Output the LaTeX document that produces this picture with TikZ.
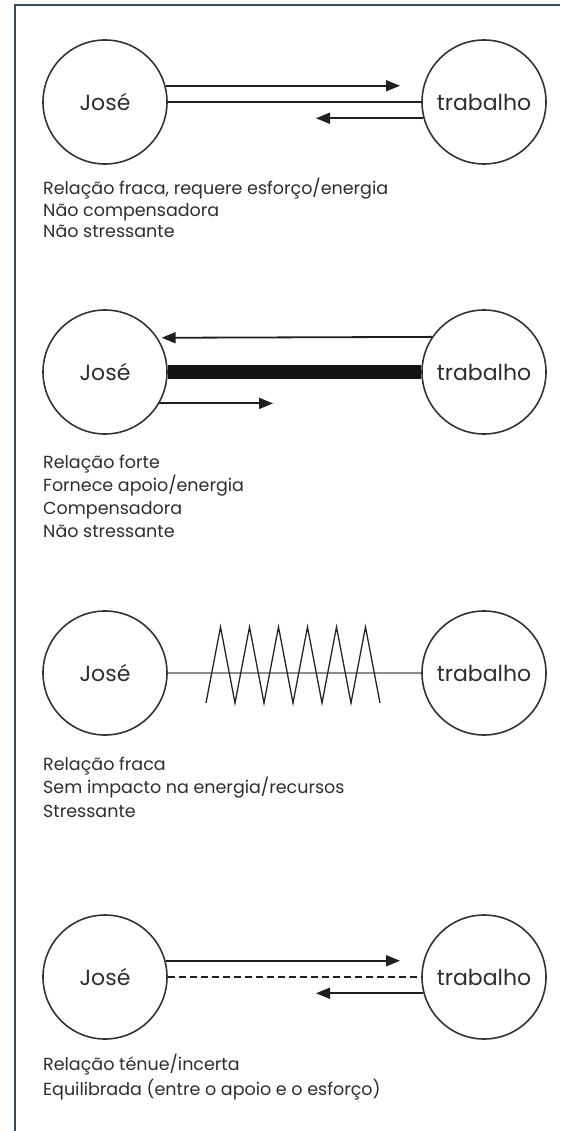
\documentclass[tikz,border=0pt]{standalone}
\usepackage{fontspec}
\newfontfamily\pop{Poppins}
\usetikzlibrary{arrows.meta,calc}
\definecolor{frame}{HTML}{3B4A5C}
\definecolor{txt}{HTML}{2E2E2E}
\definecolor{circ}{HTML}{333333}
\definecolor{midgray}{HTML}{8C8C8C}
\tikzset{
  person/.style={circle, draw=circ, line width=1.6pt, minimum size=124pt, inner sep=0pt,
    font=\pop\fontsize{22}{26}\selectfont, text=txt},
  lab/.style={anchor=base west, inner sep=0pt, font=\pop\fontsize{17.5}{22}\selectfont, text=txt},
  conn/.style={line width=1.8pt, draw=black!88},
  tipped/.style={conn, -{Triangle[length=14pt,width=11pt]}},
  frameline/.style={line width=2.2pt, draw=frame},
}
\begin{document}
\begin{tikzpicture}[x=1pt,y=-1pt]
\useasboundingbox (0,0) rectangle (560,1131);
\fill[white] (0,0) rectangle (560,1131);
% frame
\coordinate (fb) at (15,1131);
\coordinate (fc) at (15,5);
\coordinate (fr) at (560,5);
\draw[frameline] (fb) -- (fc) -- (fr);

% ---------- panel 1 ----------
\node[person] (j1) at (105,102) {José};
\node[person] (t1) at (484,102) {trabalho};
\coordinate (a1) at (400,0);
\coordinate (b1) at (316,0);
\draw[tipped] (j1.15) -- (j1.15 -| a1);
\draw[conn] (j1.east) -- (t1.west);
\draw[tipped] (t1.195) -- (t1.195 -| b1);
\node[lab] (l1a) at (43,195) {Relação fraca, requere esforço/energia};
\node[lab] (l1b) at (43,217) {Não compensadora};
\node[lab] (l1c) at (43,238) {Não stressante};

% ---------- panel 2 ----------
\node[person] (j2) at (105,372) {José};
\node[person] (t2) at (484,372) {trabalho};
\coordinate (b2) at (273,0);
\draw[tipped, shorten >=4pt] (t2.146.7) -- (j2.33.3);
\draw[line width=14pt, draw=black!92] (j2.east) -- (t2.west);
\draw[tipped] (j2.-30) -- (j2.-30 -| b2);
\node[lab] (l2a) at (43,468) {Relação forte};
\node[lab] (l2b) at (43,491) {Fornece apoio/energia};
\node[lab] (l2c) at (43,514) {Compensadora};
\node[lab] (l2d) at (43,537) {Não stressante};

% ---------- panel 3 ----------
\node[person] (j3) at (105,673) {José};
\node[person] (t3) at (484,673) {trabalho};
\draw[line width=1.8pt, draw=midgray] (j3.east) -- (t3.west);
\coordinate (z3) at (206,673);
\draw[line width=1.3pt, draw=black!85, line join=miter]
  (z3) ++(0,30)
  -- ++(14.5,-76) -- ++(14.5,76) -- ++(14.5,-76) -- ++(14.5,76)
  -- ++(14.5,-76) -- ++(14.5,76) -- ++(14.5,-76) -- ++(14.5,76)
  -- ++(14.5,-76) -- ++(14.5,76) -- ++(14.5,-76) -- ++(14.5,76);
\node[lab] (l3a) at (43,770) {Relação fraca};
\node[lab] (l3b) at (43,793) {Sem impacto na energia/recursos};
\node[lab] (l3c) at (43,817) {Stressante};

% ---------- panel 4 ----------
\node[person] (j4) at (105,977) {José};
\node[person] (t4) at (484,977) {trabalho};
\coordinate (a4) at (400,0);
\coordinate (b4) at (316,0);
\draw[tipped] (j4.15) -- (j4.15 -| a4);
\draw[conn, dash pattern=on 7pt off 4pt] (j4.east) -- (t4.west);
\draw[tipped] (t4.195) -- (t4.195 -| b4);
\node[lab] (l4a) at (43,1070) {Relação ténue/incerta};
\node[lab] (l4b) at (43,1095) {Equilibrada (entre o apoio e o esforço)};
\end{tikzpicture}
\end{document}
